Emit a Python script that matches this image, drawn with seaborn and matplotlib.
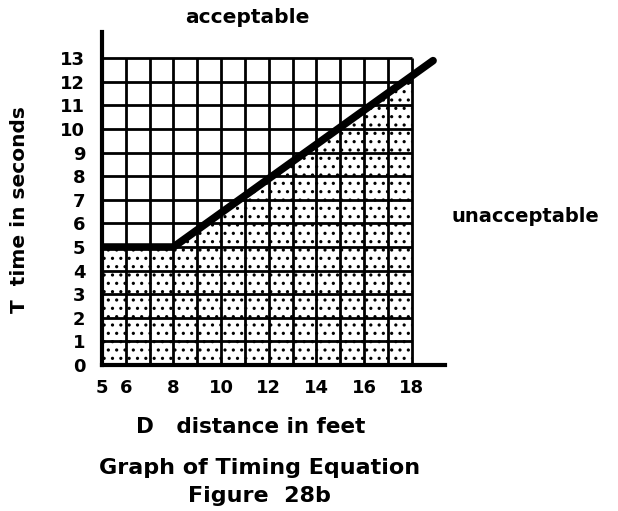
import numpy as np
import matplotlib
matplotlib.use("Agg")
import matplotlib.pyplot as plt
import seaborn as sns

# ---- data ----
distance = [5, 8, 18.9]          # D, feet
time_s = [5, 5, 12.9]            # T, seconds
x_ticks = [5, 6, 8, 10, 12, 14, 16, 18]
y_ticks = list(range(0, 14))
grid_x = list(range(5, 19))      # vertical grid lines (feet)
grid_y = list(range(0, 14))      # horizontal grid lines (seconds)

sns.set_style("white")
plt.rcParams['font.family'] = ['DejaVu Sans']
plt.rcParams['text.color'] = 'black'
plt.rcParams['hatch.linewidth'] = 1.1

fig = plt.figure(figsize=(6.18, 5.11), dpi=100)
ax = fig.add_axes([0.165, 0.2857, 0.555, 0.651])

# shaded (unacceptable) region under the line, within the grid
xs = np.linspace(grid_x[0], grid_x[-1], 400)
ys = np.interp(xs, distance, time_s)
ax.fill_between(xs, 0, ys, facecolor='white', edgecolor='black', hatch='..', linewidth=0, zorder=1)

# grid
ax.vlines(grid_x[1:], grid_y[0], grid_y[-1], colors='black', linewidth=2.0, zorder=2)
ax.hlines(grid_y[1:], grid_x[0], grid_x[-1], colors='black', linewidth=2.0, zorder=2)

# timing line
sns.lineplot(x=distance, y=time_s, ax=ax, color='black', linewidth=5.5, zorder=4,
             solid_capstyle='round', solid_joinstyle='round', sort=False)

ax.set_xlim(5, 19.4)
ax.set_ylim(0, 14.1)
ax.set_xticks(x_ticks)
ax.set_xticklabels([str(t) for t in x_ticks], fontsize=13, fontweight='bold', color='black')
ax.set_yticks(y_ticks)
ax.set_yticklabels([str(t) for t in y_ticks], fontsize=13, fontweight='bold', color='black')
ax.tick_params(length=0)
ax.tick_params(axis='x', pad=10)
ax.tick_params(axis='y', pad=12)

for s in ['top', 'right']:
    ax.spines[s].set_visible(False)
for s in ['left', 'bottom']:
    ax.spines[s].set_linewidth(3)
    ax.spines[s].set_color('black')
    ax.spines[s].set_zorder(5)

ax.set_xlabel('')
ax.set_ylabel('')

fig.text(0.40, 0.965, 'acceptable', ha='center', va='center', fontsize=14.5, fontweight='bold')
fig.text(0.85, 0.577, 'unacceptable', ha='center', va='center', fontsize=14, fontweight='bold')
fig.text(0.032, 0.59, 'T  time in seconds', ha='center', va='center', rotation=90,
         fontsize=14.5, fontweight='bold')
fig.text(0.405, 0.164, 'D   distance in feet', ha='center', va='center', fontsize=15.5, fontweight='bold')
fig.text(0.42, 0.084, 'Graph of Timing Equation', ha='center', va='center', fontsize=16, fontweight='bold')
fig.text(0.42, 0.030, 'Figure  28b', ha='center', va='center', fontsize=16, fontweight='bold')

fig.savefig('out.png', dpi=100, facecolor='white')
